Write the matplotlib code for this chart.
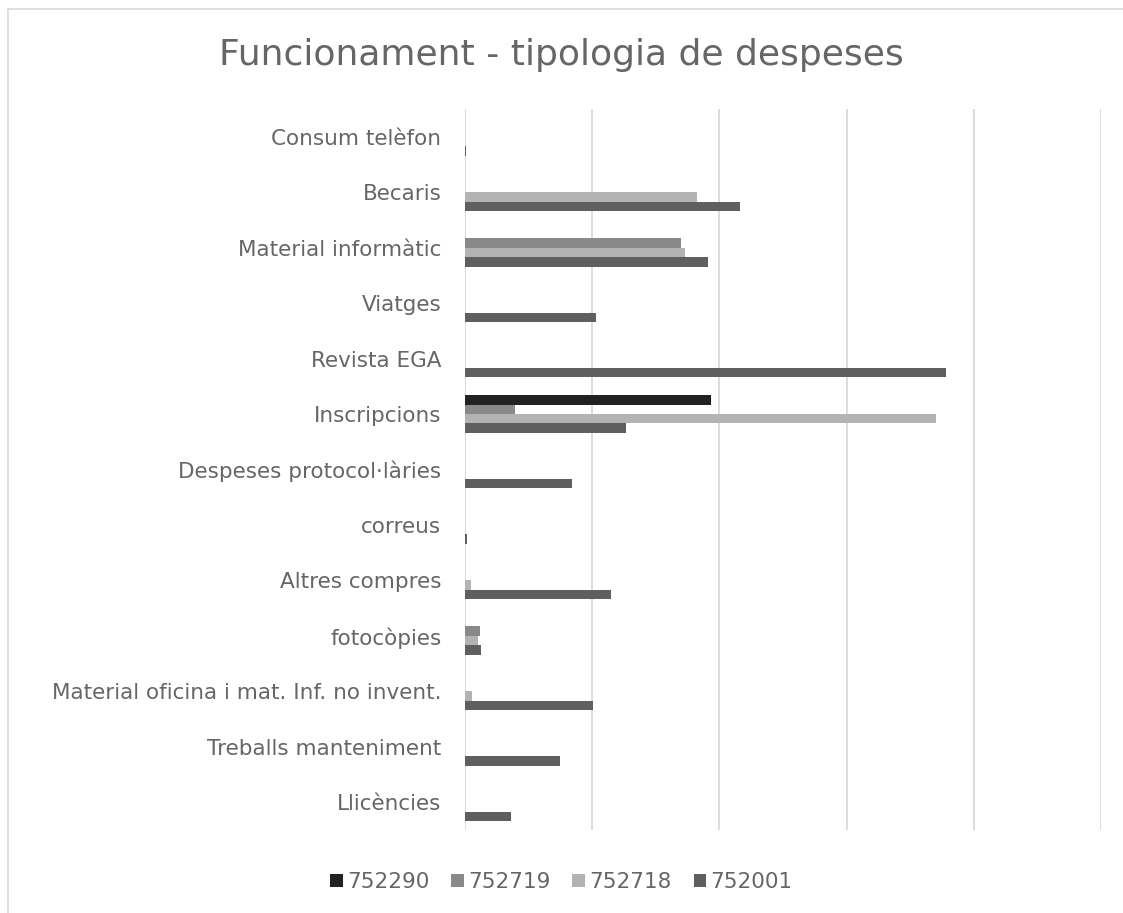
import numpy as np
import matplotlib.pyplot as plt
from matplotlib.patches import Rectangle

categories = ['Consum telèfon', 'Becaris', 'Material informàtic', 'Viatges',
              'Revista EGA', 'Inscripcions', 'Despeses protocol·làries', 'correus',
              'Altres compres', 'fotocòpies', 'Material oficina i mat. Inf. no invent.',
              'Treballs manteniment', 'Llicències']

series_names = ['752290', '752719', '752718', '752001']
s752290 = [0, 0, 0, 0, 0, 1934, 0, 0, 0, 0, 0, 0, 0]
s752719 = [0, 0, 1696, 0, 0, 390, 0, 0, 0, 120, 0, 0, 0]
s752718 = [0, 1824, 1732, 0, 0, 3700, 0, 0, 45, 100, 55, 0, 0]
s752001 = [10, 2162, 1910, 1030, 3780, 1266, 841, 12, 1145, 128, 1006, 750, 364]
colors = ['#222222', '#898989', '#b3b3b3', '#5f5f5f']

txt = '#666666'
plt.rcParams['font.family'] = ['DejaVu Sans']

fig = plt.figure(figsize=(11.23, 9.13), dpi=100)
fig.patches.append(Rectangle((8 / 1123, -0.1), 1.2, (913 - 9) / 913 + 0.1,
                             transform=fig.transFigure, fill=False,
                             edgecolor='#d9d9d9', linewidth=1.2))

ax = fig.add_axes([465 / 1123, 1 - 830 / 913, (1101 - 465) / 1123, (830 - 109) / 913])

y = np.arange(len(categories))
h = 0.17
data = [s752290, s752719, s752718, s752001]
for k in range(4):
    ax.barh(y + (k - 1.5) * h, data[k], height=h, color=colors[k],
            label=series_names[k], zorder=3)

ax.set_ylim(len(categories) - 0.5, -0.5)
ax.set_xlim(0, 5000)
ax.set_xticks(np.arange(0, 5001, 1000))
ax.xaxis.grid(True, color='#d9d9d9', linewidth=1.3, zorder=0)
ax.tick_params(axis='x', length=0, labelbottom=False)
ax.tick_params(axis='y', length=0, labelsize=15.5, labelcolor=txt, pad=17)
ax.set_yticks(y)
ax.set_yticklabels(categories)
for s in ax.spines.values():
    s.set_visible(False)

fig.text(0.5, 1 - 55 / 913, 'Funcionament - tipologia de despeses',
         ha='center', va='center', fontsize=26, color=txt)

fig.legend(loc='center', bbox_to_anchor=(0.5, 1 - 882 / 913), ncol=4,
           frameon=False, labelcolor=txt, handlelength=0.6,
           handleheight=0.6, handletextpad=0.2, columnspacing=1.0,
           prop={'size': 15.5})

fig.savefig('out.png', dpi=100)
